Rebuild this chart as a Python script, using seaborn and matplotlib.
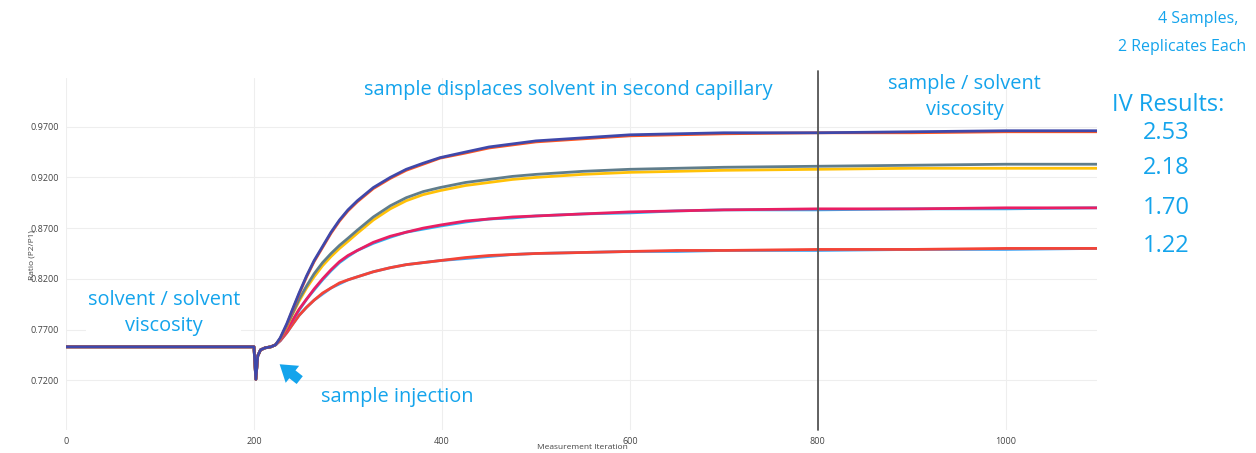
import pandas as pd
import seaborn as sns
import numpy as np
import matplotlib.pyplot as plt

TXT_COLOR = "#14a4ec"

ITER = [0, 40, 80, 120, 160, 196, 200, 202, 204, 207, 212, 218,
        223, 228, 235, 241, 248, 256, 264, 273, 282, 291, 300, 310, 327, 345,
        362, 380, 398, 425, 450, 475, 500, 550, 600, 650, 700, 800, 900, 1000, 1097]

BASE = [0.753, 0.753, 0.753, 0.753, 0.753, 0.753, 0.753, 0.721, 0.744, 0.750,
        0.752, 0.753]

# sample IV 2.53
s1_a = BASE + [0.755, 0.762, 0.776, 0.790, 0.806, 0.823, 0.838, 0.852, 0.866,
               0.878, 0.888, 0.897, 0.910, 0.920, 0.928, 0.934, 0.9395, 0.945,
               0.950, 0.953, 0.956, 0.959, 0.962, 0.963, 0.964, 0.964, 0.965,
               0.966, 0.966]
s1_b = BASE + [0.755, 0.761, 0.775, 0.789, 0.805, 0.822, 0.837, 0.851, 0.865,
               0.877, 0.887, 0.896, 0.909, 0.919, 0.927, 0.933, 0.939, 0.944,
               0.949, 0.952, 0.955, 0.958, 0.961, 0.962, 0.963, 0.964, 0.964,
               0.965, 0.965]
# sample IV 2.18
s2_a = BASE + [0.755, 0.761, 0.774, 0.786, 0.800, 0.813, 0.825, 0.836, 0.845,
               0.853, 0.860, 0.868, 0.881, 0.892, 0.900, 0.906, 0.910, 0.915,
               0.918, 0.921, 0.923, 0.926, 0.928, 0.929, 0.930, 0.931, 0.932,
               0.933, 0.933]
s2_b = BASE + [0.755, 0.761, 0.773, 0.785, 0.798, 0.811, 0.822, 0.833, 0.842,
               0.850, 0.857, 0.865, 0.878, 0.889, 0.897, 0.903, 0.907, 0.912,
               0.915, 0.918, 0.920, 0.923, 0.925, 0.926, 0.927, 0.928, 0.929,
               0.929, 0.929]
# sample IV 1.70
s3_a = BASE + [0.755, 0.760, 0.770, 0.779, 0.790, 0.800, 0.810, 0.820, 0.829,
               0.837, 0.843, 0.848, 0.856, 0.862, 0.866, 0.870, 0.873, 0.877,
               0.879, 0.881, 0.882, 0.884, 0.886, 0.887, 0.888, 0.889, 0.889,
               0.890, 0.890]
s3_b = BASE + [0.755, 0.760, 0.770, 0.779, 0.789, 0.800, 0.809, 0.819, 0.828,
               0.836, 0.842, 0.848, 0.855, 0.861, 0.866, 0.869, 0.872, 0.876,
               0.879, 0.880, 0.882, 0.884, 0.885, 0.887, 0.888, 0.888, 0.889,
               0.889, 0.890]
# sample IV 1.22
s4_a = BASE + [0.755, 0.759, 0.767, 0.775, 0.784, 0.792, 0.799, 0.806, 0.811,
               0.816, 0.819, 0.822, 0.827, 0.831, 0.834, 0.836, 0.838, 0.841,
               0.843, 0.844, 0.845, 0.846, 0.847, 0.848, 0.848, 0.849, 0.849,
               0.850, 0.850]
s4_b = BASE + [0.755, 0.759, 0.767, 0.775, 0.784, 0.792, 0.799, 0.805, 0.811,
               0.815, 0.819, 0.822, 0.827, 0.831, 0.834, 0.836, 0.838, 0.840,
               0.842, 0.844, 0.845, 0.846, 0.847, 0.847, 0.848, 0.848, 0.849,
               0.849, 0.850]

# drawn back to front
SERIES = [
    (s4_b, "#42a5f5"), (s4_a, "#f44336"),
    (s3_b, "#29b6f6"), (s3_a, "#e91e63"),
    (s2_b, "#ffc107"), (s2_a, "#607d8b"),
    (s1_b, "#ff5722"), (s1_a, "#3f48aa"),
]

IV_RESULTS = ["2.53", "2.18", "1.70", "1.22"]
Y_TICKS = [0.72, 0.77, 0.82, 0.87, 0.92, 0.97]
X_TICKS = [0, 200, 400, 600, 800, 1000]

sns.set_style("white")
plt.rcParams['font.family'] = ['Open Sans', 'DejaVu Sans']

fig = plt.figure(figsize=(12.56, 4.53), dpi=100)
ax = fig.add_axes([66 / 1256, 1 - 430 / 453, (1097 - 66) / 1256, (430 - 78) / 453])

for vals, col in SERIES:
    sns.lineplot(ax=ax, x=ITER, y=vals, color=col, lw=2.0)

ax.axvline(800, ymin=0, ymax=1.02, color="#555555", lw=1.3, clip_on=False)

ax.set_xlim(0, 1097)
ax.set_ylim(0.671, 1.018)
ax.set_xticks(X_TICKS)
ax.set_yticks(Y_TICKS)
ax.set_yticklabels([f"{v:.4f}" for v in Y_TICKS])
ax.grid(True, color="#eeeeee", lw=0.8)
ax.set_axisbelow(True)
for sp in ax.spines.values():
    sp.set_visible(False)
ax.tick_params(length=0, labelsize=6.5, colors="#444444", pad=5)
ax.set_xlabel("Measurement Iteration", fontsize=6, color="#444444", va="top")
ax.xaxis.set_label_coords(0.501, -0.040)
ax.set_ylabel("Ratio (P2/P1)", fontsize=6, color="#444444", va="center")
ax.yaxis.set_label_coords(-0.033, 0.497)

ax.text(534, 1.0064, "sample displaces solvent in second capillary",
        color=TXT_COLOR, fontsize=14.4, ha="center", va="center")
ax.text(956, 0.9995, "sample / solvent\nviscosity", color=TXT_COLOR,
        fontsize=14.4, ha="center", va="center", linespacing=1.4)
ax.text(104, 0.7867, "solvent / solvent\nviscosity", color=TXT_COLOR,
        fontsize=14.4, ha="center", va="center", linespacing=1.4,
        bbox=dict(fc="white", ec="none", pad=1))
ax.text(271, 0.7036, "sample injection", color=TXT_COLOR, fontsize=14.4,
        ha="left", va="center")
ax.annotate("", xy=(225, 0.7375), xytext=(251, 0.7185),
            arrowprops=dict(arrowstyle="simple,head_width=1.2,head_length=0.9,tail_width=0.55",
                            mutation_scale=13, color=TXT_COLOR, lw=0))

fig.text(1198 / 1256, 1 - 19 / 453, "4 Samples,", color=TXT_COLOR,
         fontsize=11.5, ha="center", va="center")
fig.text(1182 / 1256, 1 - 47 / 453, "2 Replicates Each", color=TXT_COLOR,
         fontsize=11.5, ha="center", va="center")
fig.text(1168 / 1256, 1 - 105 / 453, "IV Results:", color=TXT_COLOR, fontsize=17,
         ha="center", va="center")
for lab, ypx in zip(IV_RESULTS, [133, 168, 208, 246]):
    fig.text(1166 / 1256, 1 - ypx / 453, lab, color=TXT_COLOR, fontsize=17,
             ha="center", va="center")

fig.savefig("out.png", dpi=100)
